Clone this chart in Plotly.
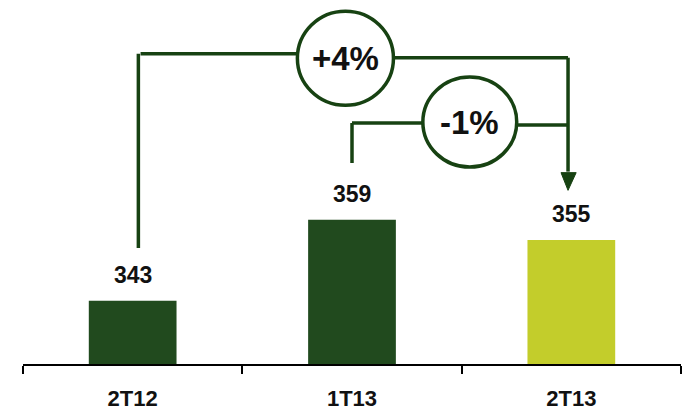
import plotly.graph_objects as go

# Quarterly values
quarters = ["2T12", "1T13", "2T13"]
values = [343, 359, 355]
bar_colors = ["#214a1e", "#214a1e", "#c3cd2b"]

# Period-over-period changes shown in the bubbles
change_labels = ["+4%", "-1%"]

LINE = "#174212"
FONT = "Liberation Sans"

fig = go.Figure()
fig.add_trace(go.Bar(
    x=quarters, y=values,
    marker=dict(color=bar_colors, line=dict(width=0)),
    width=0.40, hoverinfo="skip",
))

# value labels above each bar
for q, v in zip(quarters, values):
    fig.add_annotation(x=q, y=v, text=str(v), showarrow=False, yshift=26,
                       font=dict(family=FONT, size=23, color="#111111", weight="bold"))

shapes = []
def seg(x0, y0, x1, y1):
    shapes.append(dict(type="line", xref="x", yref="y", x0=x0, y0=y0, x1=x1, y1=y1,
                       line=dict(color=LINE, width=3.5), layer="above"))

# bubbles: centre x, centre y, half-width, half-height (data units)
bubbles = [(0.970, 390.9, 0.219, 9.3), (1.537, 378.3, 0.214, 8.9)]

# connector 2T12 -> 2T13 (+4%)
x_a, x_end = 0.026, 1.985
y_top = 391.8
seg(x_a, values[0] + 10.4, x_a, y_top)
seg(x_a + 0.01, y_top, bubbles[0][0] - bubbles[0][2], y_top)
seg(bubbles[0][0] + bubbles[0][2], y_top - 0.8, x_end, y_top - 0.8)
seg(x_end, y_top - 0.8, x_end, 368.5)
shapes.append(dict(type="path", xref="x", yref="y",
                   path=f"M 1.953 368.3 L 2.022 368.3 L {x_end} 364.8 Z",
                   fillcolor=LINE, line=dict(color=LINE, width=1), layer="above"))

# connector 1T13 -> 2T13 (-1%)
y_mid = 378.1
seg(1.0, values[1] + 11.2, 1.0, y_mid)
seg(1.0, y_mid, bubbles[1][0] - bubbles[1][2], y_mid)
seg(bubbles[1][0] + bubbles[1][2], y_mid - 0.4, x_end, y_mid - 0.4)

for (cx, cy, rx, ry), lab in zip(bubbles, change_labels):
    shapes.append(dict(type="circle", xref="x", yref="y",
                       x0=cx - rx, x1=cx + rx, y0=cy - ry, y1=cy + ry,
                       fillcolor="white", line=dict(color=LINE, width=3.5), layer="above"))
    fig.add_annotation(x=cx, y=cy, xref="x", yref="y", text=lab, showarrow=False,
                       font=dict(family=FONT, size=33, color="#111111", weight="bold"))

fig.update_layout(
    width=683, height=412,
    margin=dict(l=23, r=2, t=0, b=48),
    paper_bgcolor="white", plot_bgcolor="white",
    showlegend=False, shapes=shapes,
)
fig.update_xaxes(
    type="category", range=[-0.5, 2.5],
    tickson="boundaries", ticks="outside", ticklen=8, tickcolor="#000000", tickwidth=1.5,
    showline=True, linecolor="#000000", linewidth=1.5,
    showgrid=False, zeroline=False, ticklabelstandoff=14,
    tickfont=dict(family=FONT, size=22, color="#111111", weight="bold"),
)
fig.update_yaxes(range=[330.5, 402.4], visible=False, showgrid=False, zeroline=False)

fig.write_html("out.html", config={"displayModeBar": False})
